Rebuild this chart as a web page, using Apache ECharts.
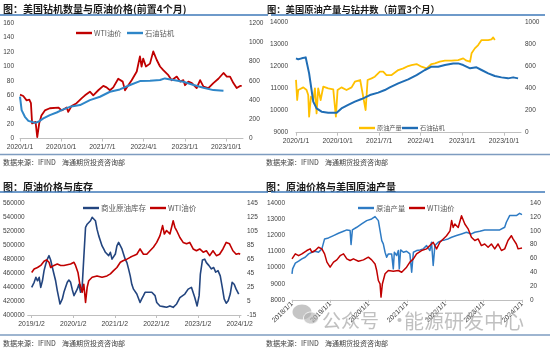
<!DOCTYPE html>
<html><head><meta charset="utf-8">
<script src="https://cdn.jsdelivr.net/npm/echarts@6/dist/echarts.min.js"></script>
<style>html,body{margin:0;padding:0;background:#fff}#c{width:550px;height:348px}</style>
</head><body><div id="c"></div>
<script>
// ---------- Panel 1: rigs (lead 4 months) & WTI ----------
const p1WtiDates = ['2020-01-01','2020-01-23','2020-02-14','2020-03-02','2020-03-13','2020-03-21','2020-03-28','2020-04-13','2020-04-24','2020-05-07','2020-05-22','2020-06-14','2020-07-17','2020-09-12','2020-10-04','2020-11-07','2020-11-17','2020-12-09','2021-01-12','2021-02-15','2021-03-07','2021-04-09','2021-05-01','2021-06-04','2021-07-07','2021-07-29','2021-08-21','2021-09-12','2021-10-15','2021-11-14','2021-11-29','2021-12-21','2022-01-13','2022-02-15','2022-03-07','2022-03-18','2022-03-29','2022-04-16','2022-05-13','2022-06-04','2022-06-27','2022-07-19','2022-08-10','2022-09-13','2022-10-05','2022-11-08','2022-11-30','2022-12-22','2023-01-02','2023-01-25','2023-02-16','2023-03-19','2023-04-11','2023-05-03','2023-06-05','2023-07-08','2023-08-11','2023-09-14','2023-10-06','2023-10-28','2023-11-19','2023-12-11','2024-01-03','2024-01-14'];
const p1WtiValues = [61,59,53,54,49,21,19,23,2,21,32,39,42,43,39,43,37,45,49,56,60,65,60,67,73,71,67,71,83,79,67,74,81,93,114,100,111,100,104,121,109,100,95,88,81,86,79,81,74,79,77,70,81,72,70,77,83,91,86,86,77,70,73,73];
const p1RigDates = ['2020-01-01','2020-01-12','2020-02-03','2020-02-25','2020-03-17','2020-04-09','2020-05-01','2020-06-04','2020-07-17','2020-09-01','2020-10-04','2020-11-28','2021-02-04','2021-04-09','2021-06-15','2021-08-21','2021-10-26','2022-01-02','2022-03-07','2022-05-13','2022-07-19','2022-08-21','2022-10-16','2022-12-22','2023-02-27','2023-05-03','2023-07-08','2023-09-14'];
const p1RigValues = [435,296,226,184,174,163,174,209,243,271,296,330,348,400,435,487,511,557,598,602,609,626,609,591,557,529,504,497];

// ---------- Panel 2: production & rigs (lead 3 months) ----------
const p2ProdDates = ['2020-01-01','2020-01-09','2020-01-16','2020-01-27','2020-02-18','2020-02-28','2020-03-10','2020-03-21','2020-03-27','2020-04-08','2020-04-23','2020-05-04','2020-05-15','2020-05-26','2020-06-11','2020-06-28','2020-07-31','2020-09-03','2020-09-14','2020-09-20','2020-10-01','2020-10-27','2020-11-29','2021-01-02','2021-01-24','2021-02-26','2021-03-11','2021-04-03','2021-04-16','2021-05-12','2021-06-03','2021-07-06','2021-07-28','2021-08-19','2021-09-22','2021-11-05','2021-12-08','2022-01-10','2022-02-01','2022-03-04','2022-04-06','2022-05-09','2022-06-11','2022-07-03','2022-08-05','2022-09-08','2022-10-21','2022-12-04','2023-01-07','2023-01-29','2023-02-20','2023-03-01','2023-03-23','2023-04-14','2023-05-06','2023-06-19','2023-07-11','2023-07-22','2023-08-02'];
const p2ProdValues = [11400,10485,10940,11015,11060,11120,10940,10710,9727,10636,10485,11015,9880,11015,10485,11090,11015,10970,10940,9727,10940,11060,10940,11060,11318,11394,11318,10030,11394,11470,11545,11773,11773,11621,11621,11848,11924,12030,12076,12121,12000,11924,12121,12151,12227,12273,12273,12303,12379,12273,12227,12606,12833,12985,13212,13212,13242,13333,13212];
const p2RigDates = ['2020-01-01','2020-01-16','2020-02-08','2020-03-04','2020-03-17','2020-03-27','2020-04-12','2020-04-23','2020-05-15','2020-06-17','2020-07-31','2020-09-25','2020-10-27','2020-12-10','2021-01-24','2021-03-07','2021-05-01','2021-06-25','2021-08-08','2021-09-10','2021-11-05','2022-01-10','2022-03-04','2022-04-28','2022-06-11','2022-07-25','2022-09-08','2022-11-02','2022-12-04','2023-01-07','2023-02-20','2023-04-03','2023-05-06','2023-06-19','2023-08-02','2023-09-15','2023-10-29','2023-12-01','2024-01-03'];
const p2RigValues = [676,667,676,685,667,539,388,282,221,191,182,182,221,252,282,306,342,364,388,412,448,485,524,570,600,600,615,630,630,615,585,594,570,539,515,503,494,503,494];

// ---------- Panel 3: inventory & WTI ----------
const p3InvDates = ['2019-01-02','2019-01-10','2019-01-24','2019-02-08','2019-02-21','2019-03-07','2019-03-21','2019-04-05','2019-04-19','2019-05-04','2019-05-18','2019-06-02','2019-06-16','2019-07-01','2019-07-15','2019-07-30','2019-08-14','2019-08-29','2019-09-07','2019-09-27','2019-10-11','2019-10-26','2019-11-10','2019-11-24','2019-12-09','2019-12-23',
'2020-01-08','2020-01-22','2020-02-06','2020-02-20','2020-03-05','2020-03-19','2020-04-03','2020-04-18','2020-05-02','2020-05-16','2020-06-01','2020-06-15','2020-06-29','2020-07-14','2020-07-28','2020-08-12','2020-08-27','2020-09-11','2020-09-25','2020-10-10','2020-10-24','2020-11-08','2020-11-23','2020-12-07','2020-12-21',
'2021-01-06','2021-01-20','2021-02-04','2021-02-18','2021-03-03','2021-03-17','2021-04-01','2021-04-16','2021-04-30','2021-05-15','2021-05-29','2021-06-13','2021-07-12','2021-08-10','2021-08-25','2021-09-09','2021-09-23','2021-10-08','2021-10-22','2021-11-21','2021-12-20',
'2022-01-04','2022-02-02','2022-03-01','2022-03-30','2022-04-28','2022-05-27','2022-06-26','2022-07-25','2022-09-07','2022-10-06','2022-11-04','2022-12-03','2022-12-24',
'2023-01-11','2023-01-22','2023-02-09','2023-02-27','2023-03-14','2023-04-06','2023-04-27','2023-05-17','2023-06-04','2023-06-24','2023-07-14','2023-08-01','2023-08-18','2023-09-05','2023-09-22','2023-10-10','2023-10-27','2023-11-14','2023-12-01','2023-12-24'];
const p3InvValues = [439600,437000,446800,454000,449000,454000,439600,449000,463500,473000,480000,485000,478800,468000,458700,449000,435000,423000,415800,423000,432500,439600,446800,450000,446800,437000,
427700,430000,437000,444000,432500,439600,482600,525600,530000,532800,535000,540000,537600,535000,523000,513700,506500,499000,494600,489800,487400,485000,489800,480000,477800,
487400,499000,504000,502400,494600,487400,480000,475000,466000,456000,444000,437000,430000,418000,423000,427700,432500,430000,432500,432500,427700,
418000,413000,412000,411000,413000,411000,415800,425000,430000,437000,439600,425000,413000,
427700,458700,478800,480000,475000,470700,466000,468000,461500,463500,456000,439600,423000,416800,420500,430000,446800,444000,437000,430000];
const p3WtiDates = ['2019-01-02','2019-01-24','2019-02-21','2019-03-21','2019-04-19','2019-05-10','2019-06-02','2019-06-16','2019-07-15','2019-08-14','2019-09-13','2019-10-11','2019-11-10','2019-12-09','2020-01-08','2020-01-22','2020-02-12','2020-02-28','2020-03-19','2020-04-03','2020-04-18','2020-05-02','2020-05-16','2020-06-15','2020-07-28','2020-09-11','2020-10-24','2020-11-23','2020-12-21','2021-01-20','2021-02-18','2021-03-17','2021-04-16','2021-05-15','2021-06-13','2021-07-12','2021-08-10','2021-09-09','2021-10-08','2021-11-06','2021-12-05','2022-01-04','2022-02-02','2022-02-23','2022-03-10','2022-03-30','2022-04-28','2022-05-13','2022-05-27','2022-06-11','2022-06-26','2022-07-25','2022-08-23','2022-09-22','2022-10-20','2022-11-19','2022-12-18','2023-01-16','2023-02-15','2023-03-14','2023-04-12','2023-05-11','2023-06-10','2023-07-08','2023-08-07','2023-09-05','2023-09-20','2023-10-04','2023-11-03','2023-12-01','2023-12-24','2024-01-06'];
const p3WtiValues = [46,51,53,56,62,64,60.5,53,56,58,56,56,57,58,60.5,56,46,29,17.5,29,3,24.6,34,39,41,39,41,44,48.5,53,60.5,63,65,67.6,70,72,79.6,72,72,77,82,89,98.7,113,101,106,101,110.6,120,110.6,106,96,89,87,89,79.6,77,79.6,75,77,70,77,70,72,79.6,89,91.5,87,77,72,73,72];

// ---------- Panel 4: WTI & US production ----------
const p4ProdDates = ['2018-01-01','2018-01-07','2018-01-16','2018-02-02','2018-03-03','2018-04-04','2018-05-05','2018-06-07','2018-07-08','2018-08-09','2018-09-10','2018-10-12','2018-11-07','2018-12-14','2019-02-01','2019-03-18','2019-05-05','2019-06-06','2019-07-07','2019-07-16','2019-07-29','2019-09-09','2019-10-26','2019-12-13','2020-01-30','2020-03-01','2020-03-17','2020-04-02','2020-04-18','2020-05-04','2020-05-19','2020-06-05','2020-06-20','2020-07-06','2020-07-22','2020-08-07','2020-08-23','2020-09-02','2020-09-24','2020-10-10','2020-10-19','2020-11-01','2020-11-27','2020-12-28','2021-01-29','2021-02-14','2021-03-01','2021-04-01','2021-05-03','2021-06-04','2021-07-05','2021-07-21','2021-08-06','2021-08-22','2021-09-07','2021-09-23','2021-10-25','2021-11-26','2021-12-27','2022-01-28','2022-02-28','2022-04-16','2022-06-03','2022-07-20','2022-09-06','2022-10-08','2022-11-25','2023-01-11','2023-02-28','2023-04-15','2023-06-02','2023-07-19','2023-08-04','2023-09-05','2023-10-07','2023-11-08','2023-12-09','2024-01-01'];
const p4ProdValues = [9614,9924,9820,10276,10400,10545,10648,10855,10958,11020,10958,11165,11786,11848,11993,12138,12262,12345,12303,11434,12345,12510,12717,12924,13028,13172,13131,12924,12303,11683,11476,10958,10648,10855,10958,10855,9924,10958,10752,11062,9924,11103,10958,11020,10855,9717,10958,11062,11103,11165,11372,11476,11062,11579,10131,11372,11579,11683,11724,11786,11890,11993,12096,12200,12096,12200,12262,12345,12345,12345,12345,12510,12820,13234,13234,13234,13379,13296];
const p4WtiDates = ['2018-01-01','2018-02-02','2018-03-03','2018-04-04','2018-05-21','2018-06-22','2018-07-08','2018-08-09','2018-09-10','2018-10-12','2018-11-07','2018-11-29','2018-12-30','2019-02-01','2019-03-02','2019-04-03','2019-05-05','2019-06-06','2019-07-07','2019-08-08','2019-09-25','2019-11-12','2019-12-29','2020-01-30','2020-03-01','2020-03-17','2020-04-02','2020-04-18','2020-04-27','2020-05-10','2020-06-05','2020-07-06','2020-08-23','2020-10-10','2020-11-11','2020-12-28','2021-01-29','2021-03-01','2021-04-01','2021-05-18','2021-07-05','2021-08-06','2021-09-07','2021-10-09','2021-11-10','2021-12-12','2022-01-13','2022-02-14','2022-02-28','2022-03-15','2022-03-31','2022-05-02','2022-06-03','2022-07-04','2022-08-05','2022-09-06','2022-10-08','2022-11-09','2022-12-10','2023-01-11','2023-02-12','2023-03-14','2023-04-15','2023-05-16','2023-06-18','2023-07-19','2023-08-20','2023-09-21','2023-10-07','2023-11-08','2023-11-24','2023-12-09','2024-01-01'];
const p4WtiValues = [59.4,66.6,64,66.6,71.5,73.9,69,71.5,76.3,73.9,66.6,54.6,47.3,54.6,57.9,64,66.6,59.4,57,59.4,56,57.9,61.8,57.9,52,42.5,28,23,3.9,23,37.7,42.5,41.5,42.5,40,47.3,54.6,59.4,66.6,71.5,73.9,78.7,83.5,73.9,83.5,88.3,93,100,115,105,110,105,122,110,103,90.8,86,88.3,78.7,81,76.3,81,73.9,81,71.5,73.9,86,93,88.3,81,73.9,76.3,75];

// ---------- Text ----------
const titles = ['图：美国钻机数量与原油价格(前置4个月)','图：美国原油产量与钻井数（前置3个月）','图：原油价格与库存','图：原油价格与美国原油产量'];
const sourceText = '数据来源：IFIND    海通期货投资咨询部';
const watermark = ['公众号','·','能源研发中心'];

// ---------- helpers ----------
function toM(s){const p=s.split('-').map(Number);const dim=new Date(p[0],p[1],0).getDate();return (p[0]-2018)*12+(p[1]-1)+(p[2]-1)/dim;}
function pts(d,v){return d.map((x,i)=>[toM(x),v[i]]);}
function ym(v,day){const r=Math.round(v);return (2018+Math.floor(r/12))+'/'+(r%12+1)+'/'+day;}
const FONT='"Noto Sans CJK SC","Microsoft YaHei",sans-serif';
const NUM='"Liberation Sans",Arial,sans-serif';
const AX='#404040';
function xAx(gi,min,max,marks,day,rot,margin){return {type:'value',gridIndex:gi,min:min,max:max,
  axisLine:{show:true,onZero:false,lineStyle:{color:'#bfbfbf',width:1}},
  axisTick:{show:true,length:3,customValues:marks,lineStyle:{color:'#bfbfbf'}},
  axisLabel:{customValues:marks,formatter:v=>ym(v,day),fontSize:6.8,color:AX,fontFamily:NUM,margin:margin,rotate:rot||0,hideOverlap:false},
  splitLine:{show:false}};}
function yAx(gi,pos,min,max,interval,margin){return {type:'value',gridIndex:gi,position:pos,min:min,max:max,interval:interval,
  axisLine:{show:false},axisTick:{show:false},splitLine:{show:false},
  axisLabel:{fontSize:6.5,color:AX,fontFamily:NUM,margin:margin,formatter:v=>String(v)}};}
function line(xi,yi,data,color,w,z){return {type:'line',xAxisIndex:xi,yAxisIndex:yi,data:data,symbol:'none',showSymbol:false,silent:true,z:z||2,
  lineStyle:{color:color,width:w,join:'round'},itemStyle:{color:color}};}

const RED='#C00000', BLUE1='#2E86C8', BLUE2='#1F6DB5', YEL='#FFC000', NAVY='#23457F', BLUE4='#2E7BC4';

function txt(x,y,t,font,fill,align){return {type:'text',x:x,y:y,silent:true,style:{text:t,font:font,fill:fill,textAlign:align||'left',textVerticalAlign:'middle'}};}
function seg(x1,y1,x2,y2,stroke,w){return {type:'line',silent:true,shape:{x1:x1,y1:y1,x2:x2,y2:y2},style:{stroke:stroke,lineWidth:w}};}
function legItem(x,y,color,label,fs){return [
  {type:'rect',silent:true,shape:{x:x,y:y-1.2,width:16,height:2.4},style:{fill:color}},
  txt(x+18,y,label,fs+'px '+FONT,'#595959')];}

const graphic=[].concat(
  [txt(3,9,titles[0],'bold 10px '+FONT,'#1a1a1a'),
   txt(267,9,titles[1],'bold 9.3px '+FONT,'#1a1a1a'),
   txt(3,187,titles[2],'bold 10px '+FONT,'#1a1a1a'),
   txt(266,187,titles[3],'bold 10px '+FONT,'#1a1a1a'),
   seg(0,15,268,15,'#3E78B8',1.3), seg(271,15,545,15,'#3E78B8',1.3),
   seg(0,192,268,192,'#3E78B8',1.3), seg(271,192,545,192,'#3E78B8',1.3),
   seg(0,154.5,550,154.5,'#7E9CC0',1.6), seg(0,335,550,335,'#7E9CC0',1.6),
   txt(3,162,sourceText,'7px '+FONT,'#404040'),
   txt(266,162,sourceText,'7px '+FONT,'#404040'),
   txt(3,343,sourceText,'7px '+FONT,'#404040'),
   txt(266,343,sourceText,'7px '+FONT,'#404040')],
  legItem(76,33,RED,'WTI油价',7.3), legItem(127,33,BLUE1,'石油钻机',7.3),
  legItem(359,128,YEL,'原油产量',6.2), legItem(402,128,BLUE2,'石油钻机',6.2),
  legItem(83,208,NAVY,'商业原油库存',7.5), legItem(150,208,RED,'WTI油价',7.5),
  legItem(358,208,BLUE4,'原油产量',7.3), legItem(409,208,RED,'WTI油价',7.3),
  [{type:'ellipse',silent:true,z:100,shape:{cx:302,cy:312,rx:9.5,ry:7.5},style:{fill:'rgba(150,150,150,0.55)'}},
   {type:'ellipse',silent:true,z:101,shape:{cx:311,cy:318,rx:7.5,ry:6},style:{fill:'rgba(175,175,175,0.6)',stroke:'rgba(255,255,255,0.8)',lineWidth:1}},
   Object.assign(txt(322,321,watermark[0],'19px '+FONT,'rgba(150,150,150,0.6)'),{z:100}),
   Object.assign(txt(390,321,watermark[1],'19px '+FONT,'rgba(150,150,150,0.6)'),{z:100}),
   Object.assign(txt(404,321,watermark[2],'20px '+FONT,'rgba(150,150,150,0.6)'),{z:100})]
);

const chart=echarts.init(document.getElementById('c'),null,{renderer:'canvas',width:550,height:348});
chart.setOption({
  animation:false,
  backgroundColor:'#ffffff',
  grid:[
    {left:20,top:23.3,width:223,height:115.2},
    {left:296,top:22.7,width:225,height:110},
    {left:27,top:203.3,width:214,height:111.7},
    {left:292,top:203.3,width:230,height:96.5}
  ],
  xAxis:[
    xAx(0,24,72.7,[24,33,42,51,60,69],1,0,5),
    xAx(1,24,72.7,[24,33,42,51,60,69],1,0,5),
    xAx(2,10.88,72.4,[12,24,36,48,60,72],2,0,5.5),
    xAx(3,0,72,[0,12,24,36,48,60,72],1,45,3)
  ],
  yAxis:[
    yAx(0,'left',0,160,20,6), yAx(0,'right',0,1200,200,6),
    yAx(1,'left',9000,14000,1000,8), yAx(1,'right',0,1000,200,4),
    yAx(2,'left',400000,560000,20000,3), yAx(2,'right',-15,145,20,6),
    yAx(3,'left',8000,14000,1000,7), yAx(3,'right',0,140,20,8)
  ],
  series:[
    line(0,0,pts(p1WtiDates,p1WtiValues),RED,1.8,2),
    line(0,1,pts(p1RigDates,p1RigValues),BLUE1,2,3),
    line(1,2,pts(p2ProdDates,p2ProdValues),YEL,1.8,2),
    line(1,3,pts(p2RigDates,p2RigValues),BLUE2,2,3),
    line(2,4,pts(p3InvDates,p3InvValues),NAVY,1.6,2),
    line(2,5,pts(p3WtiDates,p3WtiValues),RED,1.6,3),
    line(3,6,pts(p4ProdDates,p4ProdValues),BLUE4,1.5,2),
    line(3,7,pts(p4WtiDates,p4WtiValues),RED,1.5,3)
  ],
  graphic:graphic
});
</script>
</body></html>
